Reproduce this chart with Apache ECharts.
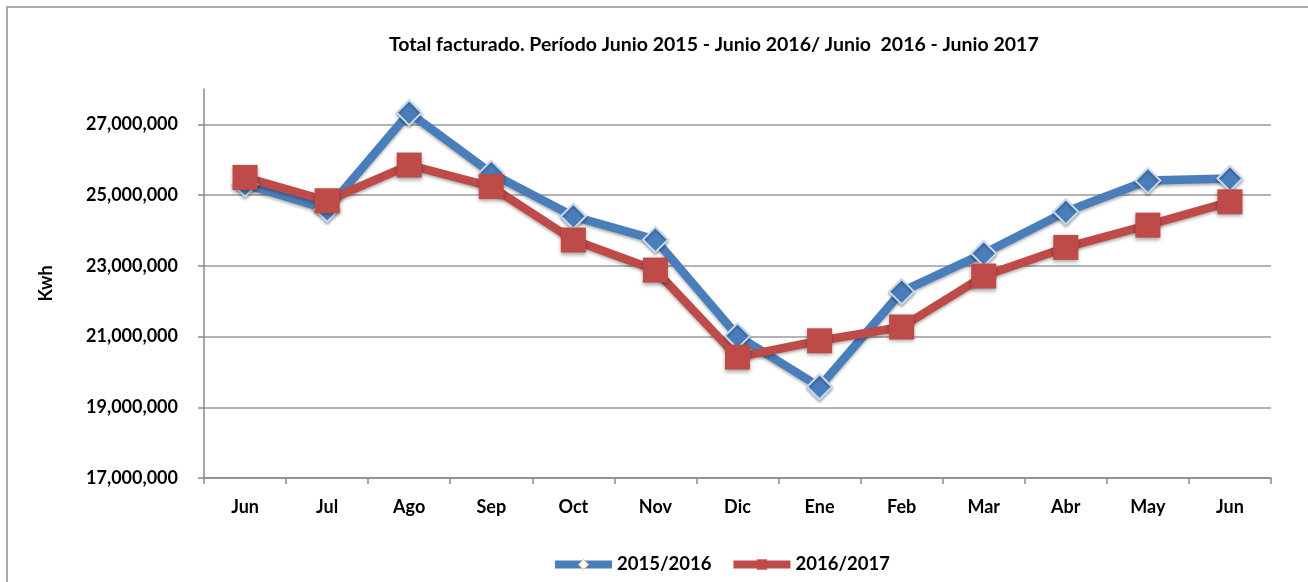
<!DOCTYPE html>
<html>
<head>
<meta charset="utf-8">
<script src="https://cdn.jsdelivr.net/npm/echarts@6/dist/echarts.min.js"></script>
<style>
  html, body { margin: 0; padding: 0; background: #fff; }
  #main { width: 1308px; height: 582px; }
</style>
</head>
<body>
<div id="main"></div>
<script>
var myChart = echarts.init(document.getElementById('main'));

// meses del periodo
var meses = ['Jun', 'Jul', 'Ago', 'Sep', 'Oct', 'Nov', 'Dic', 'Ene', 'Feb', 'Mar', 'Abr', 'May', 'Jun'];

// total facturado (Kwh)
var periodo1516 = [25310000, 24600000, 27330000, 25620000, 24400000, 23740000, 21020000, 19580000, 22270000, 23350000, 24530000, 25410000, 25470000];
var periodo1617 = [25500000, 24840000, 25850000, 25240000, 23730000, 22880000, 20420000, 20880000, 21270000, 22710000, 23520000, 24150000, 24810000];

var fuente = 'Lato, "Open Sans", sans-serif';

option = {
    backgroundColor: '#fff',
    animation: false,
    graphic: [{
        type: 'rect',
        shape: { x: 7, y: 7, width: 1400, height: 700 },
        style: { fill: 'none', stroke: '#aaaaaa', lineWidth: 2 },
        silent: true
    }],
    title: {
        text: 'Total facturado. Período Junio 2015 - Junio 2016/ Junio  2016 - Junio 2017',
        left: 384,
        top: 30,
        textStyle: {
            fontFamily: fuente,
            fontWeight: 'bold',
            fontSize: 19.5,
            color: '#000'
        }
    },
    legend: {
        left: 551,
        top: 555,
        padding: 0,
        itemWidth: 57,
        itemHeight: 13,
        itemGap: 18,
        lineStyle: { width: 8 },
        textStyle: {
            fontFamily: fuente,
            fontWeight: 'bold',
            fontSize: 18.5,
            color: '#000'
        },
        data: [
            { name: '2015/2016', itemStyle: { color: '#ffffff', borderColor: '#f0b070', borderWidth: 1 } },
            { name: '2016/2017' }
        ]
    },
    grid: {
        left: 204,
        right: 37,
        top: 89,
        bottom: 104
    },
    xAxis: {
        type: 'category',
        data: meses,
        boundaryGap: true,
        axisLine: { lineStyle: { color: '#8a8a8a', width: 1.5 } },
        axisTick: { show: true, length: 6, lineStyle: { color: '#8a8a8a', width: 1.5 } },
        axisLabel: {
            margin: 20,
            fontFamily: fuente,
            fontWeight: 'bold',
            fontSize: 18,
            color: '#000'
        }
    },
    yAxis: {
        type: 'value',
        min: 17000000,
        max: 28000000,
        interval: 2000000,
        name: 'Kwh',
        nameLocation: 'middle',
        nameRotate: 90,
        nameGap: 149,
        nameTextStyle: {
            fontFamily: fuente,
            fontWeight: 'bold',
            fontSize: 18,
            color: '#000'
        },
        axisLine: { show: true, lineStyle: { color: '#8a8a8a', width: 1.5 } },
        axisTick: { show: true, length: 6, lineStyle: { color: '#8a8a8a', width: 1.5 } },
        axisLabel: {
            margin: 26,
            showMaxLabel: false,
            fontFamily: fuente,
            fontWeight: 'bold',
            fontSize: 18,
            color: '#000',
            formatter: function (v) {
                return v.toLocaleString('en-US');
            }
        },
        splitLine: {
            show: true,
            showMaxLine: false,
            lineStyle: { color: '#9a9a9a', width: 1.5 }
        }
    },
    series: [
        {
            name: '2015/2016',
            type: 'line',
            data: periodo1516,
            symbol: 'diamond',
            symbolSize: 25,
            lineStyle: {
                color: '#4a7ebb',
                width: 8.5,
                shadowBlur: 3,
                shadowColor: 'rgba(0,0,0,0.3)',
                shadowOffsetY: 2
            },
            itemStyle: {
                color: '#4a7ebb',
                borderColor: '#c6d9f1',
                borderWidth: 2,
                shadowBlur: 3,
                shadowColor: 'rgba(0,0,0,0.3)',
                shadowOffsetY: 2
            },
            clip: false
        },
        {
            name: '2016/2017',
            type: 'line',
            data: periodo1617,
            symbol: 'rect',
            symbolSize: 25,
            lineStyle: {
                color: '#be4b48',
                width: 8.5,
                shadowBlur: 3,
                shadowColor: 'rgba(0,0,0,0.3)',
                shadowOffsetY: 2
            },
            itemStyle: {
                color: '#be4b48',
                borderColor: '#be4b48',
                borderWidth: 0,
                shadowBlur: 4,
                shadowColor: 'rgba(0,0,0,0.35)',
                shadowOffsetY: 2
            },
            clip: false
        }
    ]
};

myChart.setOption(option);
</script>
</body>
</html>
